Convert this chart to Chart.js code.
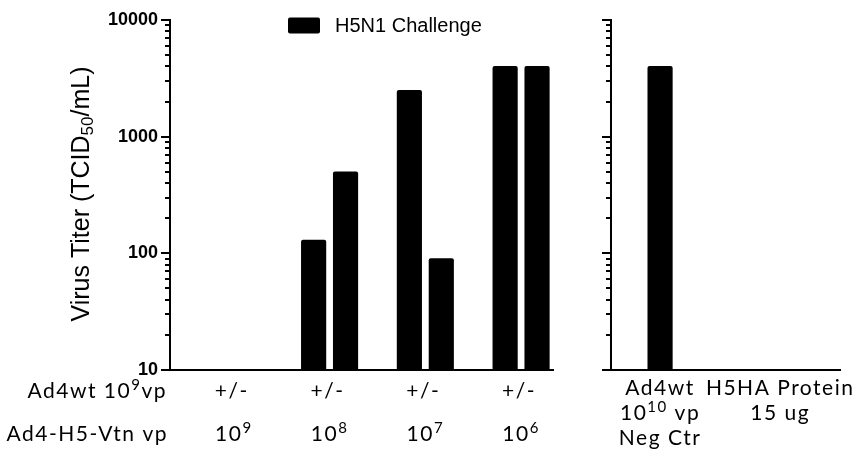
<!DOCTYPE html>
<html><head><meta charset="utf-8">
<script src="https://cdn.jsdelivr.net/npm/chart.js@4"></script>
<style>
html,body{margin:0;padding:0;background:#fff;}
#wrap{position:relative;width:859px;height:455px;overflow:hidden;}
.box{position:absolute;top:0;height:455px;}
</style></head><body>
<div id="wrap">
  <div class="box" style="left:0;width:575px"><canvas id="c1"></canvas></div>
  <div class="box" style="left:575px;width:284px"><canvas id="c2"></canvas></div>
</div>
<script>
const legendLabel = 'H5N1 Challenge';
const yAxisTitle = ['Virus Titer (TCID', '50', '/mL)'];
const yTickValues = [10, 100, 1000, 10000];
const rowLabels = [
  [{t:'Ad4wt 10'}, {t:'9', sup:true}, {t:'vp'}],
  [{t:'Ad4-H5-Vtn vp'}]
];
const ad4wtMarks = ['+/-', '+/-', '+/-', '+/-'];
const vaccineDoseExp = ['9', '8', '7', '6'];
const mouse1Titers = [null, 130, 2500, 4000];
const mouse2Titers = [null, 500, 90, 4000];
const controlNames = [
  [[{t:'Ad4wt'}], [{t:'10'}, {t:'10', sup:true}, {t:' vp'}], [{t:'Neg Ctr'}]],
  [[{t:'H5HA Protein'}], [{t:'15 ug'}]]
];
const controlTiters = [4000, null];

const leftSlots = [], leftData = [];
vaccineDoseExp.forEach((e, k) => {
  leftSlots.push('gap' + k, 'g' + k + 'a', 'g' + k + 'b');
  leftData.push(null, mouse1Titers[k], mouse2Titers[k]);
});
const rightSlotCount = 7;
const rightLabelPos = [1, 4.67];
const rightSlots = [], rightData = [];
for (let i = 0; i < rightSlotCount; i++) { rightSlots.push('s' + i); rightData.push(null); }
rightData[1] = controlTiters[0];

const LBL_FONT = '"Lato", "Open Sans", sans-serif';
const ARIAL = '"Liberation Sans", Arial, sans-serif';
const LBL_SIZE = 21;

function drawRich(ctx, parts, x, y, align, size) {
  ctx.save();
  ctx.letterSpacing = '1.5px';
  ctx.textBaseline = 'alphabetic';
  ctx.textAlign = 'left';
  const fontN = size + 'px ' + LBL_FONT, fontS = Math.round(size * 0.7) + 'px ' + LBL_FONT;
  let w = 0;
  parts.forEach(p => { ctx.font = p.sup ? fontS : fontN; p.w = ctx.measureText(p.t).width; w += p.w; });
  let sx = align === 'right' ? x - w : (align === 'center' ? x - w / 2 : x);
  const base = y + size * 0.36;
  parts.forEach(p => {
    ctx.font = p.sup ? fontS : fontN;
    ctx.fillText(p.t, sx, p.sup ? base - size * 0.38 : base);
    sx += p.w;
  });
  ctx.restore();
}

function drawLogTicks(chart) {
  const s = chart.scales.y, ctx = chart.ctx, x = chart.chartArea.left;
  ctx.save();
  ctx.lineWidth = 2; ctx.setLineDash([]); ctx.strokeStyle = '#000';
  const lo = Math.round(Math.log10(s.min)), hi = Math.round(Math.log10(s.max));
  for (let d = lo; d <= hi; d++) {
    for (let m = 1; m <= 9; m++) {
      if (d === hi && m > 1) break;
      const v = m * Math.pow(10, d);
      const y = Math.round(s.getPixelForValue(v));
      const len = m === 1 ? 9 : 5;
      ctx.beginPath(); ctx.moveTo(x - len, y); ctx.lineTo(x + 1, y); ctx.stroke();
    }
  }
  ctx.restore();
}

const leftDecor = {
  id: 'leftDecor',
  afterDraw(chart) {
    const ctx = chart.ctx, xs = chart.scales.x, ca = chart.chartArea;
    ctx.save();
    ctx.fillStyle = '#000';
    vaccineDoseExp.forEach((e, k) => {
      const cx = (xs.getPixelForValue(3 * k + 1) + xs.getPixelForValue(3 * k + 2)) / 2;
      drawRich(ctx, [{t: ad4wtMarks[k]}], cx - 2, 390, 'center', LBL_SIZE);
      drawRich(ctx, [{t:'10'}, {t: e, sup: true}], cx, 433, 'center', LBL_SIZE);
    });
    drawRich(ctx, rowLabels[0], 167, 390, 'right', LBL_SIZE);
    drawRich(ctx, rowLabels[1], 168, 433, 'right', LBL_SIZE);
    ctx.restore();
    ctx.save();
    ctx.translate(82, 194);
    ctx.rotate(-Math.PI / 2);
    ctx.textBaseline = 'middle';
    ctx.fillStyle = '#000';
    const f1 = '25px ' + ARIAL, f2 = '17px ' + ARIAL;
    ctx.font = f1; const w1 = ctx.measureText(yAxisTitle[0]).width, w3 = ctx.measureText(yAxisTitle[2]).width;
    ctx.font = f2; const w2 = ctx.measureText(yAxisTitle[1]).width;
    let sx = -(w1 + w2 + w3) / 2;
    ctx.font = f1; ctx.fillText(yAxisTitle[0], sx, 0); sx += w1;
    ctx.font = f2; ctx.fillText(yAxisTitle[1], sx, 6); sx += w2;
    ctx.font = f1; ctx.fillText(yAxisTitle[2], sx, 0);
    ctx.restore();
    const ds = chart.data.datasets[0];
    ctx.save();
    ctx.fillStyle = ds.backgroundColor;
    ctx.beginPath(); ctx.roundRect(ca.left + 118, 17.5, 32, 16, 2); ctx.fill();
    ctx.fillStyle = '#000';
    ctx.font = '20px ' + ARIAL; ctx.textBaseline = 'middle'; ctx.textAlign = 'left';
    ctx.fillText(ds.label, ca.left + 165, 26.5);
    ctx.restore();
    drawLogTicks(chart);
  }
};

const rightDecor = {
  id: 'rightDecor',
  afterDraw(chart) {
    const ctx = chart.ctx, xs = chart.scales.x;
    ctx.save();
    ctx.fillStyle = '#000';
    const rowsY = [387, 412, 437];
    controlNames.forEach((lines, i) => {
      const cx = xs.getPixelForValue(rightLabelPos[i]);
      lines.forEach((parts, r) => drawRich(ctx, parts, cx, rowsY[r], 'center', LBL_SIZE));
    });
    ctx.restore();
    drawLogTicks(chart);
  }
};

function yScale(showLabels, width) {
  return {
    type: 'logarithmic', min: 10, max: 10000,
    grid: { display: false, drawTicks: false },
    border: { display: true, color: '#000', width: 2 },
    ticks: {
      display: showLabels, autoSkip: false, color: '#000', padding: 12,
      font: { family: ARIAL, size: 18, weight: 'bold' },
      callback: v => yTickValues.includes(v) ? String(v) : ''
    },
    afterFit(s) { s.width = width; s.paddingTop = 0; s.paddingBottom = 0; }
  };
}
function xScale() {
  return {
    type: 'category', offset: true,
    grid: { display: false, drawTicks: false },
    border: { display: true, color: '#000', width: 2 },
    ticks: { display: false },
    afterFit(s) { s.height = 85; s.paddingLeft = 0; s.paddingRight = 0; }
  };
}
const common = {
  responsive: true, maintainAspectRatio: false, animation: false,
  plugins: { legend: { display: false }, tooltip: { enabled: false } }
};

new Chart(document.getElementById('c1'), {
  type: 'bar',
  data: { labels: leftSlots, datasets: [{ label: legendLabel, data: leftData, backgroundColor: '#000',
    barThickness: 24.5, borderRadius: 2 }] },
  options: Object.assign({}, common, {
    layout: { padding: { left: 0, top: 20, right: 22, bottom: 0 } },
    scales: { x: xScale(), y: yScale(true, 170) }
  }),
  plugins: [leftDecor]
});

new Chart(document.getElementById('c2'), {
  type: 'bar',
  data: { labels: rightSlots, datasets: [{ label: legendLabel, data: rightData, backgroundColor: '#000',
    barThickness: 24.5, borderRadius: 2 }] },
  options: Object.assign({}, common, {
    layout: { padding: { left: 0, top: 20, right: 19, bottom: 0 } },
    scales: { x: xScale(), y: yScale(false, 36) }
  }),
  plugins: [rightDecor]
});
</script>
</body></html>
